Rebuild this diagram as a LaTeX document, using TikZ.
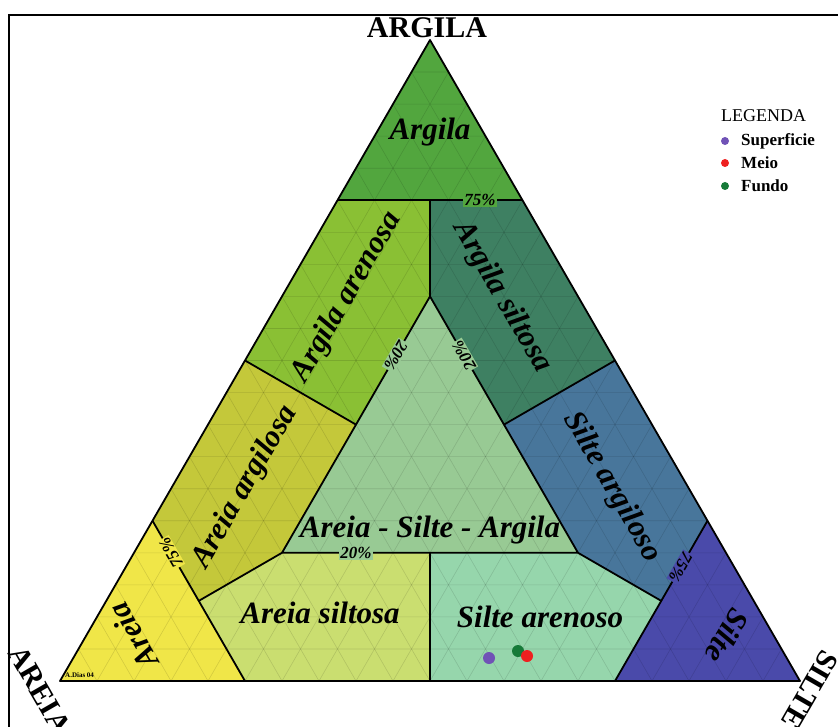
\documentclass[tikz,border=0pt]{standalone}
\usepackage{fontspec}
\setmainfont{Liberation Serif}
\usetikzlibrary{calc}

\definecolor{argila}{RGB}{82,166,62}
\definecolor{argArenosa}{RGB}{138,192,52}
\definecolor{argSiltosa}{RGB}{62,128,98}
\definecolor{areiaArg}{RGB}{196,200,58}
\definecolor{mistura}{RGB}{152,202,148}
\definecolor{silteArg}{RGB}{72,118,155}
\definecolor{areia}{RGB}{240,230,72}
\definecolor{areiaSilt}{RGB}{202,222,112}
\definecolor{silteAren}{RGB}{150,214,172}
\definecolor{silte}{RGB}{74,74,170}
\definecolor{superficie}{RGB}{112,82,182}
\definecolor{meio}{RGB}{238,32,32}
\definecolor{fundo}{RGB}{22,122,56}

\begin{document}
\begin{tikzpicture}[x=1pt,y=-1pt]
\tikzstyle{border} = [line width=1.8pt, line join=round]
\tikzstyle{grade}  = [line width=0.6pt, black, opacity=0.12]
\tikzstyle{zone}   = [font=\fontsize{31}{31}\selectfont\bfseries\itshape, text=black]
\tikzstyle{pct}    = [font=\fontsize{17}{17}\selectfont\bfseries\itshape, inner sep=1pt]
\tikzstyle{vertex} = [font=\fontsize{30}{30}\selectfont\bfseries]
\tikzstyle{legend} = [font=\fontsize{17}{17}\selectfont\bfseries, anchor=west, inner sep=0pt]
\tikzstyle{sample} = [circle, inner sep=0pt, minimum size=12pt]
\tikzstyle{bullet} = [circle, inner sep=0pt, minimum size=8pt]

\useasboundingbox (0,0) rectangle (838,727);
\draw[line width=2pt] (9,760) -- (9,15) -- (860,15);

% ternary coordinates: (silte, argila)
\begin{scope}[shift={(60,681)}, x={(740pt,0pt)}, y={(370pt,641pt)}]
\coordinate (A)    at (0,0);
\coordinate (S)    at (1,0);
\coordinate (C)    at (0,1);
\coordinate (c75l) at (0,.75);
\coordinate (c75m) at (.125,.75);
\coordinate (c75r) at (.25,.75);
\coordinate (a75l) at (0,.25);
\coordinate (a75m) at (.125,.125);
\coordinate (a75b) at (.25,0);
\coordinate (s75r) at (.75,.25);
\coordinate (s75m) at (.75,.125);
\coordinate (s75b) at (.75,0);
\coordinate (cBL)  at (.2,.2);
\coordinate (cBR)  at (.6,.2);
\coordinate (cT)   at (.2,.6);
\coordinate (cLm)  at (.2,.4);
\coordinate (cRm)  at (.4,.4);
\coordinate (cBm)  at (.4,.2);
\coordinate (hL)   at (0,.5);
\coordinate (hR)   at (.5,.5);
\coordinate (hB)   at (.5,0);
\end{scope}

% classes
\fill[argila]     (C) -- (c75l) -- (c75r) -- cycle;
\fill[argArenosa] (c75l) -- (c75m) -- (cT) -- (cLm) -- (hL) -- cycle;
\fill[argSiltosa] (c75m) -- (c75r) -- (hR) -- (cRm) -- (cT) -- cycle;
\fill[areiaArg]   (hL) -- (cLm) -- (cBL) -- (a75m) -- (a75l) -- cycle;
\fill[silteArg]   (hR) -- (s75r) -- (s75m) -- (cBR) -- (cRm) -- cycle;
\fill[mistura]    (cBL) -- (cBR) -- (cT) -- cycle;
\fill[areia]      (A) -- (a75b) -- (a75l) -- cycle;
\fill[areiaSilt]  (a75b) -- (hB) -- (cBm) -- (cBL) -- (a75m) -- cycle;
\fill[silteAren]  (hB) -- (s75b) -- (s75m) -- (cBR) -- (cBm) -- cycle;
\fill[silte]      (s75b) -- (S) -- (s75r) -- cycle;

% 5% grid
\begin{scope}[shift={(60,681)}, x={(740pt,0pt)}, y={(370pt,641pt)}]
\foreach \i in {1,...,19} {
  \pgfmathsetmacro\k{\i/20}
  \draw[grade] (0,\k) -- ({1-\k},\k)
               (\k,0) -- (\k,{1-\k})
               ({1-\k},0) -- (0,{1-\k});
}
\end{scope}

% limits
\draw[border] (A) -- (S) -- (C) -- cycle;
\draw[border] (c75l) -- (c75r);
\draw[border] (a75l) -- (a75b);
\draw[border] (s75r) -- (s75b);
\draw[border] (cBL) -- (cBR) -- (cT) -- cycle;
\draw[border] (c75m) -- (cT);
\draw[border] (hL) -- (cLm);
\draw[border] (hR) -- (cRm);
\draw[border] (a75m) -- (cBL);
\draw[border] (s75m) -- (cBR);
\draw[border] (hB) -- (cBm);

% class names
\node (tArgila)     [zone]             at (430,132) {Argila};
\node (tArgArenosa) [zone, rotate=60]  at (347,297) {Argila arenosa};
\node (tArgSiltosa) [zone, rotate=-60] at (502,297) {Argila siltosa};
\node (tAreiaArg)   [zone, rotate=60]  at (245,487) {Areia argilosa};
\node (tSilteArg)   [zone, rotate=-60] at (612,487) {Silte argiloso};
\node (tMistura)    [zone]             at (430,530) {Areia - Silte - Argila};
\node (tAreiaSilt)  [zone]             at (320,613) {Areia siltosa};
\node (tSilteAren)  [zone]             at (540,617) {Silte arenoso};
\node (tAreia)      [zone, rotate=120] at (133,636) {Areia};
\node (tSilte)      [zone, rotate=-120] at (727,636) {Silte};

% limit values
\node (p75top)   [pct, fill=argila]               at ($(c75l)!.77!(c75r)$) {75\%};
\node (p20base)  [pct, fill=mistura]              at ($(cBL)!.25!(cBR)$)   {20\%};
\node (p20left)  [pct, fill=mistura, rotate=-120] at ($(cBL)!.77!(cT)$)    {20\%};
\node (p20right) [pct, fill=mistura, rotate=120]  at ($(cT)!.23!(cBR)$)    {20\%};
\node (p75areia) [pct, fill=areia, rotate=120]    at ($(a75l)!.2!(a75b)$)  {75\%};
\node (p75silte) [pct, fill=silte, rotate=-120]   at ($(s75r)!.29!(s75b)$) {75\%};

% vertices
\node (vArgila) [vertex]              at (427,28)  {ARGILA};
\node (vAreia)  [vertex, rotate=-60]  at (40,690)  {AREIA};
\node (vSilte)  [vertex, rotate=-120] at (810,690) {SILTE};

\node (autor) [font=\fontsize{7}{7}\selectfont\bfseries, anchor=west, inner sep=0pt] at (65,675) {A.Dias 04};

% samples
\node (ptSup)   [sample, fill=superficie] at (489,658) {};
\node (ptFundo) [sample, fill=fundo]      at (518,651) {};
\node (ptMeio)  [sample, fill=meio]       at (527,656) {};

% legend
\node (legTitulo) [font=\fontsize{18}{18}\selectfont, anchor=west, inner sep=0pt] at (721,116) {LEGENDA};
\node (bSup)   [bullet, fill=superficie] at (725,141) {};
\node (bMeio)  [bullet, fill=meio]       at (725,163) {};
\node (bFundo) [bullet, fill=fundo]      at (725,186) {};
\node (lSup)   [legend] at (741,141) {Superficie};
\node (lMeio)  [legend] at (741,163) {Meio};
\node (lFundo) [legend] at (741,186) {Fundo};
\end{tikzpicture}
\end{document}
